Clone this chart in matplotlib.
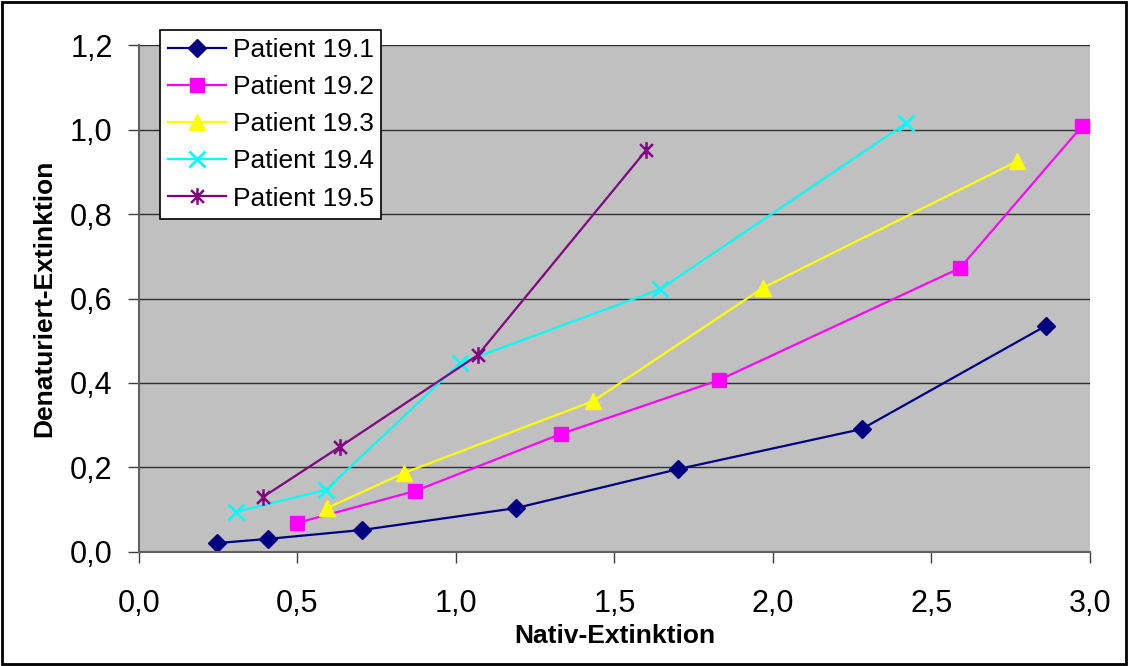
import matplotlib
matplotlib.use('Agg')
import matplotlib.pyplot as plt
from matplotlib.path import Path
from matplotlib.patches import Rectangle

plt.rcParams['font.family'] = ['Liberation Sans', 'DejaVu Sans']

# data
x_191 = [0.246, 0.407, 0.703, 1.19, 1.70, 2.28, 2.86]
y_191 = [0.021, 0.031, 0.052, 0.104, 0.196, 0.291, 0.535]
x_192 = [0.50, 0.87, 1.33, 1.83, 2.59, 2.975]
y_192 = [0.069, 0.144, 0.279, 0.407, 0.672, 1.008]
x_193 = [0.593, 0.836, 1.432, 1.968, 2.77]
y_193 = [0.104, 0.187, 0.357, 0.625, 0.925]
x_194 = [0.306, 0.59, 1.013, 1.644, 2.42]
y_194 = [0.095, 0.147, 0.447, 0.622, 1.015]
x_195 = [0.391, 0.634, 1.069, 1.60]
y_195 = [0.130, 0.249, 0.466, 0.951]
labels = ['Patient 19.1', 'Patient 19.2', 'Patient 19.3', 'Patient 19.4', 'Patient 19.5']
xticks = [0.0, 0.5, 1.0, 1.5, 2.0, 2.5, 3.0]
yticks = [0.0, 0.2, 0.4, 0.6, 0.8, 1.0, 1.2]

# excel style star: x plus vertical bar
star = Path([(-1, -1), (1, 1), (-1, 1), (1, -1), (0, -1.3), (0, 1.3)],
            [Path.MOVETO, Path.LINETO, Path.MOVETO, Path.LINETO, Path.MOVETO, Path.LINETO])

fig = plt.figure(figsize=(11.28, 6.66), dpi=100)
ax = fig.add_axes([0.1232, 0.1712, 0.8431, 0.7612])
ax.set_facecolor('#C0C0C0')

ax.plot(x_191, y_191, color='#000080', lw=1.6, marker='D', ms=9.5, label=labels[0])
ax.plot(x_192, y_192, color='#FF00FF', lw=1.6, marker='s', ms=10.5, label=labels[1])
ax.plot(x_193, y_193, color='#FFFF00', lw=1.6, marker='^', ms=12, label=labels[2])
ax.plot(x_194, y_194, color='#00FFFF', lw=1.6, marker='x', ms=11, mew=2, label=labels[3])
ax.plot(x_195, y_195, color='#800080', lw=1.6, marker=star, ms=12, mew=1.8, label=labels[4])

ax.set_xlim(0, 3.0)
ax.set_ylim(0, 1.2)
ax.set_xticks(xticks)
ax.set_yticks(yticks)
ax.set_xticklabels([f'{v:.1f}'.replace('.', ',') for v in xticks], fontsize=22)
ax.set_yticklabels([f'{v:.1f}'.replace('.', ',') for v in yticks], fontsize=22)
ax.tick_params(direction='out', length=8, width=1, color='#404040')
ax.tick_params(axis='x', pad=19)
ax.tick_params(axis='y', pad=11)
ax.grid(axis='y', color='#303030', lw=1)
ax.set_axisbelow(True)
for s in ['top', 'right']:
    ax.spines[s].set_visible(False)
for s in ['left', 'bottom']:
    ax.spines[s].set_color('#606060')
    ax.spines[s].set_linewidth(1.5)

ax.set_xlabel('Nativ-Extinktion', fontsize=19, fontweight='bold', labelpad=3)
ax.set_ylabel('Denaturiert-Extinktion', fontsize=19, fontweight='bold', labelpad=10)

leg = ax.legend(loc='upper left', bbox_to_anchor=(160 / 1128, 1 - 30 / 666),
                bbox_transform=fig.transFigure, fontsize=19, fancybox=False,
                framealpha=1, edgecolor='black', borderpad=0.3, labelspacing=0.5,
                handlelength=2.2, handletextpad=0.25, borderaxespad=0)
leg.get_frame().set_linewidth(1.2)

fig.patches.append(Rectangle((0.002, 0.003), 0.996, 0.994, transform=fig.transFigure,
                             fill=False, edgecolor='black', lw=2))

fig.savefig('out.png', dpi=100)
